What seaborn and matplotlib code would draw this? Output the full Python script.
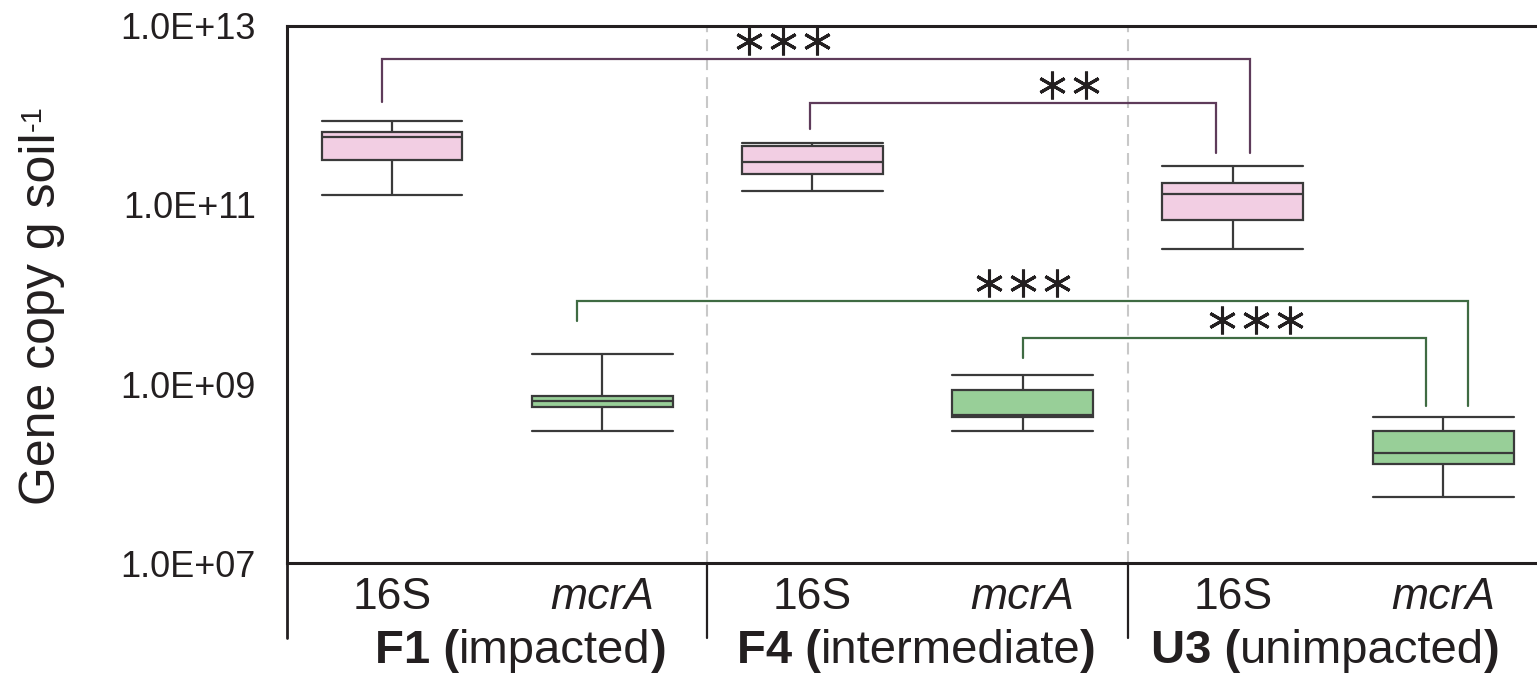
import numpy as np
import pandas as pd
import matplotlib
matplotlib.use('Agg')
import matplotlib.pyplot as plt
import matplotlib.transforms as mtransforms
from matplotlib.ticker import FixedLocator, FuncFormatter, NullFormatter
import seaborn as sns

# sites and genes
sites = ['F1', 'F4', 'U3']
site_notes = ['impacted', 'intermediate', 'unimpacted']
genes = ['16S', 'mcrA']

# five-number summaries: whisker low, Q1, median, Q3, whisker high
f1_16s = [1.30e11, 3.21e11, 5.75e11, 6.55e11, 8.75e11]
f4_16s = [1.45e11, 2.20e11, 3.05e11, 4.56e11, 4.89e11]
u3_16s = [3.20e10, 6.80e10, 1.34e11, 1.77e11, 2.75e11]
f1_mcra = [2.97e8, 5.53e8, 6.46e8, 7.35e8, 2.18e9]
f4_mcra = [3.00e8, 4.28e8, 4.50e8, 8.57e8, 1.25e9]
u3_mcra = [5.50e7, 1.29e8, 1.69e8, 2.96e8, 4.28e8]

# significance brackets: left x, right x, left foot, right foot, bar height, star x, stars, gene
brackets = [
    (-0.05, 4.08, 1.43e12, 3.81e11, 4.25e12, 1.86, 3, '16S'),
    (1.99, 3.92, 7.06e11, 3.81e11, 1.38e12, 3.22, 2, '16S'),
    (0.88, 5.12, 5.06e9, 5.73e8, 8.45e9, 3.00, 3, 'mcrA'),
    (3.00, 4.92, 1.97e9, 5.73e8, 3.29e9, 4.11, 3, 'mcrA'),
]

values = {('F1', '16S'): f1_16s, ('F4', '16S'): f4_16s, ('U3', '16S'): u3_16s,
          ('F1', 'mcrA'): f1_mcra, ('F4', 'mcrA'): f4_mcra, ('U3', 'mcrA'): u3_mcra}

rows = []
for site in sites:
    for gene in genes:
        for v in values[(site, gene)]:
            rows.append({'group': f'{site} {gene}', 'gene': gene, 'copies': v})
df = pd.DataFrame(rows)
order = [f'{s} {g}' for s in sites for g in genes]

sns.set_style('white')
plt.rcParams['font.family'] = ['Liberation Sans', 'DejaVu Sans']
ink = '#231f20'
fill_colors = {'16S': '#f2cee3', 'mcrA': '#98cf98'}
bracket_colors = {'16S': '#5e3b5a', 'mcrA': '#3f6b42'}

fig = plt.figure(figsize=(15.37, 6.75), dpi=100)
ax = fig.add_axes([0.1867, 0.1659, 0.8206, 0.7956])

sns.boxplot(data=df, x='group', y='copies', hue='gene', order=order,
            palette=fill_colors, saturation=1, dodge=False, width=0.67,
            whis=(0, 100), linecolor='#3a3a3a', linewidth=1.6,
            log_scale=(False, True), legend=False, capwidths=0.67, ax=ax)

ax.set_ylim(1e7, 1e13)
ax.set_xlim(-0.5, 5.5)
ax.yaxis.set_major_locator(FixedLocator([1e7, 1e9, 1e11, 1e13]))
ax.yaxis.set_minor_locator(FixedLocator([1e8, 1e10, 1e12]))
ax.yaxis.set_major_formatter(FuncFormatter(lambda v, _: f'{v:.1E}'))
ax.yaxis.set_minor_formatter(NullFormatter())
ax.tick_params(axis='y', which='both', direction='inout', length=27, width=2,
               color=ink, labelsize=26, labelcolor=ink, pad=9)

ax.set_xticks(range(6))
ax.set_xticklabels(genes * 3)
for lab in ax.get_xticklabels():
    if lab.get_text() == 'mcrA':
        lab.set_style('italic')
ax.tick_params(axis='x', which='major', length=0, labelsize=32, labelcolor=ink, pad=10)
ax.xaxis.set_minor_locator(FixedLocator([0.5, 2.5, 4.5]))
ax.tick_params(axis='x', which='minor', direction='inout', length=26, width=1.6, color=ink)

ax.set_xlabel('')
ylab = ax.set_ylabel('Gene copy g soil', fontsize=36, color=ink)
ax.yaxis.set_label_coords(-0.176, 0.455)
ax.annotate('-1', xy=(0, 1), xycoords=ylab, xytext=(0, 1), textcoords='offset points',
            rotation=90, ha='left', va='bottom', fontsize=21, color=ink)

for side in ['left', 'bottom', 'top']:
    ax.spines[side].set_visible(True)
    ax.spines[side].set_linewidth(2.2)
    ax.spines[side].set_color(ink)
ax.spines['right'].set_visible(False)

# dashed separators between sites
for xb in [1.5, 3.5]:
    ax.axvline(xb, color='#c8c8c8', lw=1.5, ls=(0, (5.7, 3.4)), zorder=0)

# site separators below the axis
trans = mtransforms.blended_transform_factory(ax.transData, ax.transAxes)
for xb in [-0.5, 1.5, 3.5]:
    ax.plot([xb, xb], [0, -0.14], transform=trans, color=ink,
            lw=2.0 if xb < 0 else 1.6, clip_on=False)

# site labels: bold code, normal description
label_left = [-0.08, 1.64, 3.61]
for site, note, xl in zip(sites, site_notes, label_left):
    t1 = ax.text(xl, -0.205, f'{site} (', transform=trans, fontsize=34,
                 fontweight='bold', color=ink, va='bottom', ha='left')
    t2 = ax.annotate(note, xy=(1, 0), xycoords=t1, fontsize=34, color=ink,
                     va='bottom', ha='left')
    ax.annotate(')', xy=(1, 0), xycoords=t2, fontsize=34, fontweight='bold',
                color=ink, va='bottom', ha='left')

# significance brackets with asterisk marks above the bar
for xl, xr, yl, yr, ytop, xs, n, gene in brackets:
    c = bracket_colors[gene]
    ax.plot([xl, xl, xr, xr], [yl, ytop, ytop, yr], color=c, lw=1.6,
            solid_joinstyle='miter', zorder=3)
    for k in range(n):
        off = (k - (n - 1) / 2) * 24.5
        tr = mtransforms.offset_copy(ax.transData, fig=fig, x=off, y=13, units='points')
        ax.plot([xs], [ytop], transform=tr, marker=(6, 2, 0), ms=20, mew=2.2,
                color=ink, clip_on=False, zorder=4)

fig.savefig('out.png', dpi=100)
